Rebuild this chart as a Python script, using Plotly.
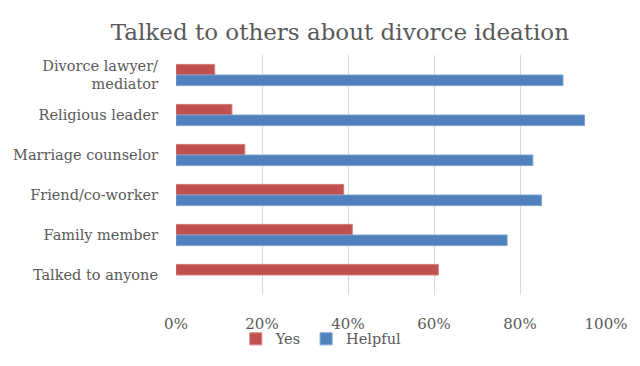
import plotly.graph_objects as go

categories = ["Divorce lawyer/<br>mediator", "Religious leader", "Marriage counselor",
              "Friend/co-worker", "Family member", "Talked to anyone"]
yes_values = [0.09, 0.13, 0.16, 0.39, 0.41, 0.61]
helpful_values = [0.90, 0.95, 0.83, 0.85, 0.77, None]
tick_vals = [0, 0.2, 0.4, 0.6, 0.8, 1.0]
tick_text = ["0%", "20%", "40%", "60%", "80%", "100%"]

FONT = "DejaVu Serif"
TXT = "#595959"

fig = go.Figure()
fig.add_trace(go.Bar(y=categories, x=yes_values, name="Yes", orientation="h",
                     marker=dict(color="#C0504D", line=dict(color="#D47C7A", width=1))))
fig.add_trace(go.Bar(y=categories, x=helpful_values, name="Helpful", orientation="h",
                     marker=dict(color="#4F81BD", line=dict(color="#7DA2D1", width=1))))

fig.update_layout(
    width=640, height=366,
    paper_bgcolor="white", plot_bgcolor="white",
    barmode="group", bargap=0.47, bargroupgap=0,
    margin=dict(l=176, r=34, t=55, b=71, autoexpand=False),
    font=dict(family=FONT, color=TXT, size=15),
    title=dict(text="Talked to others about divorce ideation", x=0.531, xanchor="center",
               xref="container", y=0.912, yanchor="middle", yref="container",
               font=dict(family=FONT, size=23, color=TXT)),
    xaxis=dict(range=[0, 1.0], tickvals=tick_vals, ticktext=tick_text,
               showgrid=True, gridcolor="#D9D9D9", gridwidth=1, zeroline=False,
               showline=False, ticks="", ticklabelstandoff=18, automargin=False,
               tickfont=dict(family=FONT, size=15, color=TXT)),
    yaxis=dict(autorange="reversed", showgrid=False, zeroline=False, showline=False,
               ticks="", ticklabelstandoff=17, automargin=False,
               tickfont=dict(family=FONT, size=14.5, color=TXT)),
    legend=dict(orientation="h", x=0.502, xanchor="center", xref="container",
                y=0.074, yanchor="middle", yref="container",
                bgcolor="rgba(0,0,0,0)",
                font=dict(family=FONT, size=14.5, color=TXT),
                itemwidth=30, traceorder="normal"),
    showlegend=True,
)

fig.write_html("out.html", config={"displayModeBar": False},
               post_script="document.body.style.margin='0';")
